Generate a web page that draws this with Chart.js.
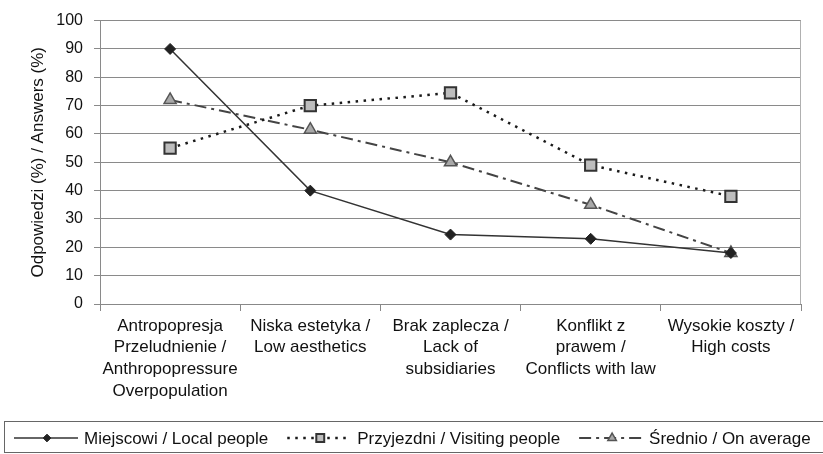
<!DOCTYPE html>
<html>
<head>
<meta charset="utf-8">
<script src="https://cdn.jsdelivr.net/npm/chart.js@4"></script>
<style>
  html, body { margin: 0; padding: 0; background: #fff; }
  #wrap { width: 823px; height: 454px; }
</style>
</head>
<body>
<div id="wrap"><canvas id="lineChart" width="823" height="454"></canvas></div>
<script>
var categories = [
    ['Antropopresja', 'Przeludnienie /', 'Anthropopressure', 'Overpopulation'],
    ['Niska estetyka /', 'Low aesthetics'],
    ['Brak zaplecza /', 'Lack of', 'subsidiaries'],
    ['Konflikt z', 'prawem /', 'Conflicts with law'],
    ['Wysokie koszty /', 'High costs']
];
var localPeople = [90, 40, 24.5, 23, 18];
var visitingPeople = [55, 70, 74.5, 49, 38];
var average = [72, 61.5, 50, 35, 18];
var yTicks = [0, 10, 20, 30, 40, 50, 60, 70, 80, 90, 100];

var fontFamily = '"Liberation Sans", Arial, sans-serif';

// frame round the plot + a boxed legend with line and marker samples
var frameAndLegend = {
    id: 'frameAndLegend',
    afterDraw: function (chart) {
        var ctx = chart.ctx;
        var a = chart.chartArea;
        ctx.save();
        ctx.strokeStyle = '#b0b0b0';
        ctx.lineWidth = 1;
        ctx.beginPath();
        ctx.moveTo(a.right - 0.5, a.top);
        ctx.lineTo(a.right - 0.5, a.bottom);
        ctx.stroke();

        // box runs off the right edge, as in the original
        ctx.strokeStyle = '#666';
        ctx.strokeRect(4.5, 421.5, 830, 31);
        ctx.font = '17px ' + fontFamily;
        ctx.textBaseline = 'middle';
        var y = 438;
        var x = 14;
        chart.data.datasets.forEach(function (ds) {
            ctx.save();
            ctx.strokeStyle = ds.borderColor;
            ctx.lineWidth = ds.borderWidth;
            ctx.setLineDash(ds.borderDash || []);
            ctx.beginPath();
            ctx.moveTo(x, y);
            ctx.lineTo(x + 64, y);
            ctx.stroke();
            ctx.restore();
            ctx.save();
            ctx.fillStyle = ds.pointBackgroundColor;
            ctx.strokeStyle = ds.pointBorderColor;
            ctx.lineWidth = ds.pointBorderWidth;
            Chart.helpers.drawPoint(ctx, {
                pointStyle: ds.pointStyle,
                radius: ds.pointRadius * 0.7,
                borderWidth: ds.pointBorderWidth
            }, x + 33, y);
            ctx.restore();
            ctx.fillStyle = '#111';
            ctx.fillText(ds.label, x + 70, y + 1);
            x += 70 + ctx.measureText(ds.label).width + 19;
        });
        ctx.restore();
    }
};

var ctx = document.getElementById('lineChart').getContext('2d');
new Chart(ctx, {
    type: 'line',
    data: {
        labels: categories,
        datasets: [{
            label: 'Miejscowi / Local people',
            data: localPeople,
            borderColor: '#333',
            borderWidth: 1.5,
            pointStyle: 'rectRot',
            pointRadius: 5.5,
            pointBackgroundColor: '#222',
            pointBorderColor: '#222',
            pointBorderWidth: 1
        }, {
            label: 'Przyjezdni / Visiting people',
            data: visitingPeople,
            borderColor: '#1a1a1a',
            borderWidth: 2.5,
            borderDash: [2.5, 5.5],
            pointStyle: 'rect',
            pointRadius: 8,
            pointBackgroundColor: '#bdbdbd',
            pointBorderColor: '#333',
            pointBorderWidth: 2
        }, {
            label: 'Średnio / On average',
            data: average,
            borderColor: '#444',
            borderWidth: 2,
            borderDash: [12, 5, 3, 5],
            pointStyle: 'triangle',
            pointRadius: 7,
            pointBackgroundColor: '#a8a8a8',
            pointBorderColor: '#555',
            pointBorderWidth: 1.5
        }]
    },
    options: {
        responsive: false,
        animation: false,
        layout: { padding: { top: 8, right: 22, bottom: 35, left: 4 } },
        plugins: {
            legend: { display: false },
            tooltip: { enabled: false }
        },
        scales: {
            x: {
                offset: true,
                afterFit: function (axis) { axis.height = 115; },
                grid: {
                    offset: true,
                    drawOnChartArea: false,
                    drawTicks: true,
                    tickLength: 7,
                    color: '#888'
                },
                border: { color: '#888', width: 1 },
                ticks: {
                    color: '#111',
                    font: { family: fontFamily, size: 17, lineHeight: 1.28 },
                    maxRotation: 0,
                    autoSkip: false,
                    padding: 4
                }
            },
            y: {
                min: 0,
                max: 100,
                afterFit: function (axis) { axis.width = 96; },
                afterBuildTicks: function (axis) {
                    axis.ticks = yTicks.map(function (v) { return { value: v }; });
                },
                grid: {
                    color: '#8a8a8a',
                    drawTicks: true,
                    tickLength: 6
                },
                border: { color: '#8a8a8a', width: 1 },
                ticks: {
                    color: '#111',
                    font: { family: fontFamily, size: 16 },
                    padding: 11
                },
                title: {
                    display: true,
                    text: 'Odpowiedzi (%) / Answers (%)',
                    color: '#111',
                    font: { family: fontFamily, size: 17 },
                    padding: { top: 24, bottom: 0 }
                }
            }
        }
    },
    plugins: [frameAndLegend]
});
</script>
</body>
</html>
